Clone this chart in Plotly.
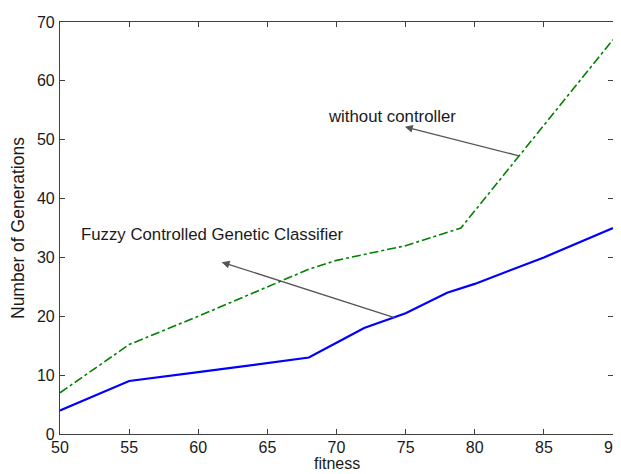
import plotly.graph_objects as go

fit_fuzzy = [50, 52, 55, 60, 65, 68, 70, 72, 75, 78, 80, 85, 90]
gen_fuzzy = [4, 6, 9, 10.5, 12, 13, 15.5, 18, 20.5, 24, 25.5, 30, 35]

fit_plain = [50, 55, 60, 65, 68, 70, 75, 79, 90]
gen_plain = [7, 15.2, 20, 25, 28, 29.5, 32, 35, 67]

x_ticks = [50, 55, 60, 65, 70, 75, 80, 85, 90]
y_ticks = [0, 10, 20, 30, 40, 50, 60, 70]

font = "Liberation Sans, Arial, sans-serif"
axcol = "#404040"
txtcol = "#1a1a1a"

fig = go.Figure()
fig.add_trace(go.Scatter(x=fit_fuzzy, y=gen_fuzzy, mode="lines",
                         line=dict(color="#0000ff", width=2.2), showlegend=False))
fig.add_trace(go.Scatter(x=fit_plain, y=gen_plain, mode="lines",
                         line=dict(color="#008000", width=1.6, dash="dashdot"), showlegend=False))

# arrows
fig.add_annotation(x=74.95, y=52.2, ax=83.3, ay=47.2, xref="x", yref="y", axref="x", ayref="y",
                   text="", showarrow=True, arrowhead=2, arrowsize=1.2, arrowwidth=1.3, arrowcolor="#555555")
fig.add_annotation(x=61.7, y=29.2, ax=74.3, ay=19.7, xref="x", yref="y", axref="x", ayref="y",
                   text="", showarrow=True, arrowhead=2, arrowsize=1.2, arrowwidth=1.3, arrowcolor="#555555")
fig.add_annotation(x=74.0, y=54.0, xref="x", yref="y", text="without controller", showarrow=False,
                   font=dict(family=font, size=16.8, color=txtcol))
fig.add_annotation(x=61.0, y=33.9, xref="x", yref="y", text="Fuzzy Controlled Genetic Classifier",
                   showarrow=False, font=dict(family=font, size=16.8, color=txtcol))

# axis titles
fig.add_annotation(x=0.5, y=0, xref="paper", yref="paper", yanchor="middle", yshift=-29,
                   text="fitness", showarrow=False, font=dict(family=font, size=16, color=txtcol))
fig.add_annotation(x=0, y=0.5, xref="paper", yref="paper", xanchor="center", xshift=-42,
                   text="Number of Generations", textangle=-90, showarrow=False,
                   font=dict(family=font, size=17.5, color=txtcol))

axis_common = dict(showline=True, linecolor=axcol, linewidth=1.2, mirror="ticks", automargin=False,
                   ticks="inside", ticklen=5, tickcolor=axcol, showgrid=False, zeroline=False,
                   ticklabeloverflow="allow",
                   tickfont=dict(family=font, size=16, color=txtcol))
fig.update_xaxes(range=[50, 90], tickvals=x_ticks, ticklabelstandoff=-1, **axis_common)
fig.update_yaxes(range=[0, 70], tickvals=y_ticks, ticklabelstandoff=1, **axis_common)

# page body has an 8px margin; plot area placed to match the 621x474 window
fig.update_layout(width=621, height=466, margin=dict(l=52, r=16, t=14, b=40),
                  plot_bgcolor="white", paper_bgcolor="white")
fig.write_html("out.html")
